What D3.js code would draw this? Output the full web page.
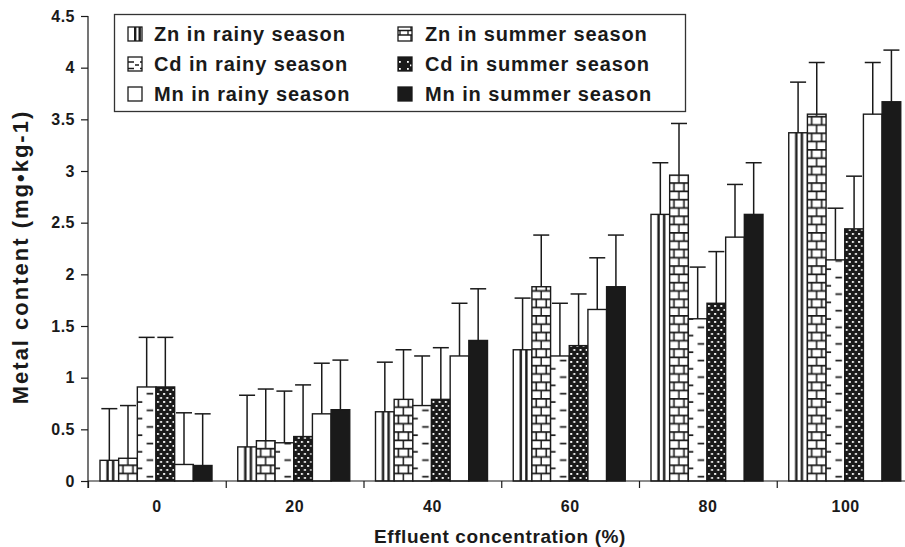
<!DOCTYPE html>
<html>
<head>
<meta charset="utf-8">
<script src="https://cdn.jsdelivr.net/npm/d3@7"></script>
<style>
body{margin:0;background:#fff;}
svg{display:block;font-family:"Liberation Sans",Arial,Helvetica,sans-serif;font-weight:bold;}
.tick text{font-size:16px;font-weight:bold;fill:#1a1a1a;letter-spacing:0.5px;}
.label{font-size:19px;fill:#1a1a1a;letter-spacing:0.6px;}
.ylabel{font-size:22px;fill:#1a1a1a;letter-spacing:2px;}
.legendText{font-size:20px;fill:#1a1a1a;letter-spacing:0.9px;}
</style>
</head>
<body>
<svg></svg>
<script>
// effluent concentration (%)
var categories = ["0","20","40","60","80","100"];
var yTicks = [0,0.5,1,1.5,2,2.5,3,3.5,4,4.5];

// metal content, mg/kg
var znRainy  = [0.20,0.33,0.67,1.27,2.58,3.37];
var znSummer = [0.22,0.39,0.79,1.88,2.96,3.55];
var cdRainy  = [0.91,0.37,0.73,1.21,1.57,2.14];
var cdSummer = [0.91,0.43,0.79,1.31,1.72,2.44];
var mnRainy  = [0.16,0.65,1.21,1.66,2.36,3.55];
var mnSummer = [0.15,0.69,1.36,1.88,2.58,3.67];

// upper error bars
var znRainyErr  = [0.50,0.50,0.48,0.50,0.50,0.49];
var znSummerErr = [0.51,0.50,0.48,0.50,0.50,0.50];
var cdRainyErr  = [0.48,0.50,0.48,0.51,0.50,0.50];
var cdSummerErr = [0.48,0.50,0.50,0.50,0.50,0.51];
var mnRainyErr  = [0.50,0.49,0.51,0.50,0.51,0.50];
var mnSummerErr = [0.50,0.48,0.50,0.50,0.50,0.50];

var series = [
    {key:"znR",name:"Zn in rainy season",fill:"stripes",values:znRainy,err:znRainyErr},
    {key:"znS",name:"Zn in summer season",fill:"brick",values:znSummer,err:znSummerErr},
    {key:"cdR",name:"Cd in rainy season",fill:"dashes",values:cdRainy,err:cdRainyErr},
    {key:"cdS",name:"Cd in summer season",fill:"dots",values:cdSummer,err:cdSummerErr},
    {key:"mnR",name:"Mn in rainy season",fill:"white",values:mnRainy,err:mnRainyErr},
    {key:"mnS",name:"Mn in summer season",fill:"black",values:mnSummer,err:mnSummerErr}
];

var screen = {width:905,height:547};
var margins = {left:88,top:16,bottom:66};
var plotBottom = screen.height-margins.bottom; // 481

var svg = d3.select("svg")
    .attr("width",screen.width)
    .attr("height",screen.height);
var defs = svg.append("defs");

var xScale = d3.scaleBand()
    .domain(categories)
    .range([margins.left,914.5])
    .padding(0);
var inner = d3.scaleBand()
    .domain(series.map(function(s){return s.key;}))
    .range([12,124])
    .padding(0);
var yScale = d3.scaleLinear()
    .domain([0,4.5])
    .range([plotBottom,margins.top]);

// one pattern per mark so the hatching lines up with the bar's left edge
var makePattern = function(id,kind,x0,w)
{
    var p;
    if(kind=="stripes")
    {
        p = defs.append("pattern").attr("id",id)
            .attr("patternUnits","userSpaceOnUse")
            .attr("x",x0).attr("y",0).attr("width",w).attr("height",10);
        p.append("rect").attr("width",w).attr("height",10).attr("fill","#fff");
        p.append("rect").attr("x",w*0.34).attr("width",2.4).attr("height",10).attr("fill","#1a1a1a");
        p.append("rect").attr("x",w*0.64).attr("width",2.4).attr("height",10).attr("fill","#1a1a1a");
    }
    else if(kind=="brick")
    {
        p = defs.append("pattern").attr("id",id)
            .attr("patternUnits","userSpaceOnUse")
            .attr("x",x0).attr("y",plotBottom).attr("width",10).attr("height",16.6);
        p.append("rect").attr("width",10).attr("height",16.6).attr("fill","#fff");
        p.append("path")
            .attr("d","M0,0.8H10M0,9.1H10M4.3,0.8V9.1M9.3,9.1V16.6")
            .attr("stroke","#1a1a1a").attr("stroke-width",1.6).attr("fill","none");
    }
    else if(kind=="dashes")
    {
        p = defs.append("pattern").attr("id",id)
            .attr("patternUnits","userSpaceOnUse")
            .attr("x",x0).attr("y",plotBottom).attr("width",w).attr("height",16.6);
        p.append("rect").attr("width",w).attr("height",16.6).attr("fill","#fff");
        p.append("path")
            .attr("d","M0,4H5M"+(w*0.5)+",12.3H"+(w*0.85))
            .attr("stroke","#1a1a1a").attr("stroke-width",1.8);
    }
    else if(kind=="dots")
    {
        p = defs.append("pattern").attr("id",id)
            .attr("patternUnits","userSpaceOnUse")
            .attr("x",x0).attr("y",0).attr("width",6.2).attr("height",8);
        p.append("rect").attr("width",6.2).attr("height",8).attr("fill","#1a1a1a");
        p.append("rect").attr("x",1).attr("y",1).attr("width",1.9).attr("height",1.9).attr("fill","#fff");
        p.append("rect").attr("x",4.1).attr("y",5).attr("width",1.9).attr("height",1.9).attr("fill","#fff");
    }
}

var fillFor = function(kind,id)
{
    if(kind=="white"){return "#fff";}
    if(kind=="black"){return "#1a1a1a";}
    return "url(#"+id+")";
}

var drawBars = function()
{
    var bars = [];
    series.forEach(function(s)
    {
        s.values.forEach(function(v,i)
        {
            bars.push({s:s,cat:categories[i],value:v,err:s.err[i],id:"p-"+s.key+"-"+i});
        });
    });
    bars.forEach(function(b)
    {
        makePattern(b.id,b.s.fill,xScale(b.cat)+inner(b.s.key),inner.bandwidth());
    });

    var g = svg.append("g").classed("bars",true);
    g.selectAll("rect")
        .data(bars)
        .enter()
        .append("rect")
        .attr("x",function(b){return xScale(b.cat)+inner(b.s.key);})
        .attr("y",function(b){return yScale(b.value);})
        .attr("width",inner.bandwidth())
        .attr("height",function(b){return plotBottom-yScale(b.value);})
        .attr("fill",function(b){return fillFor(b.s.fill,b.id);})
        .attr("stroke","#1a1a1a")
        .attr("stroke-width",1.4);

    var eb = svg.append("g").classed("errorbars",true)
        .attr("stroke","#1a1a1a")
        .attr("stroke-width",1.5);
    var cx = function(b){return xScale(b.cat)+inner(b.s.key)+inner.bandwidth()/2;};
    eb.selectAll("line.stem")
        .data(bars)
        .enter()
        .append("line")
        .classed("stem",true)
        .attr("x1",cx).attr("x2",cx)
        .attr("y1",function(b){return yScale(b.value);})
        .attr("y2",function(b){return yScale(b.value+b.err);});
    eb.selectAll("line.cap")
        .data(bars)
        .enter()
        .append("line")
        .classed("cap",true)
        .attr("x1",function(b){return cx(b)-8;})
        .attr("x2",function(b){return cx(b)+8;})
        .attr("y1",function(b){return yScale(b.value+b.err);})
        .attr("y2",function(b){return yScale(b.value+b.err);});
}

var drawAxes = function()
{
    var yAxis = d3.axisLeft(yScale)
        .tickValues(yTicks)
        .tickFormat(d3.format(""))
        .tickSize(7)
        .tickSizeOuter(0)
        .tickPadding(6);
    var ya = svg.append("g")
        .attr("transform","translate("+margins.left+",0)")
        .call(yAxis);
    ya.select(".domain").remove();
    ya.selectAll("line").attr("stroke","#1a1a1a").attr("stroke-width",1.2);

    svg.append("line")
        .attr("x1",margins.left).attr("x2",margins.left)
        .attr("y1",margins.top).attr("y2",plotBottom+7)
        .attr("stroke","#1a1a1a").attr("stroke-width",1.2);
    svg.append("line")
        .attr("x1",margins.left).attr("x2",screen.width)
        .attr("y1",plotBottom).attr("y2",plotBottom)
        .attr("stroke","#1a1a1a").attr("stroke-width",1.2);

    // ticks sit between the groups
    var edges = d3.scaleLinear().domain([0,categories.length]).range(xScale.range());
    var xe = svg.append("g")
        .attr("transform","translate(0,"+plotBottom+")")
        .call(d3.axisBottom(edges).ticks(6).tickFormat("").tickSize(7).tickSizeOuter(0));
    xe.select(".domain").remove();
    xe.selectAll("line").attr("stroke","#1a1a1a").attr("stroke-width",1.2);

    var xl = svg.append("g")
        .attr("transform","translate(0,"+plotBottom+")")
        .call(d3.axisBottom(xScale).tickSize(0).tickPadding(20));
    xl.select(".domain").remove();
}

var drawLabels = function()
{
    svg.append("text")
        .classed("label",true)
        .attr("text-anchor","middle")
        .attr("x",500)
        .attr("y",543)
        .text("Effluent concentration (%)");
    svg.append("g")
        .attr("transform","translate(28,257)")
        .append("text")
        .classed("ylabel",true)
        .attr("text-anchor","middle")
        .attr("transform","rotate(270)")
        .text("Metal content (mg\u2022kg-1)");
}

var drawLegend = function()
{
    var legend = svg.append("g").classed("legend",true);
    legend.append("rect")
        .attr("x",114.5).attr("y",14.5)
        .attr("width",571).attr("height",97)
        .attr("fill","#fff")
        .attr("stroke","#333").attr("stroke-width",1.3);
    var entries = legend.selectAll("g.entry")
        .data(series)
        .enter()
        .append("g")
        .classed("entry",true)
        .attr("transform",function(s,i)
        {
            var col = i%2, row = Math.floor(i/2);
            return "translate("+(col==0?128:398)+","+(27+row*30)+")";
        });
    entries.each(function(s,i)
    {
        var col = i%2, row = Math.floor(i/2);
        var ax = col==0?128:398, ay = 27+row*30;
        var id = "leg-"+s.key;
        if(s.fill=="stripes")
        {
            defs.append("pattern").attr("id",id).attr("patternUnits","userSpaceOnUse")
                .attr("x",ax).attr("y",ay).attr("width",14).attr("height",14)
                .call(function(p)
                {
                    p.append("rect").attr("width",14).attr("height",14).attr("fill","#fff");
                    p.append("rect").attr("x",4).attr("width",2.4).attr("height",14).attr("fill","#1a1a1a");
                    p.append("rect").attr("x",8.5).attr("width",2.4).attr("height",14).attr("fill","#1a1a1a");
                });
        }
        else if(s.fill=="brick")
        {
            defs.append("pattern").attr("id",id).attr("patternUnits","userSpaceOnUse")
                .attr("x",ax).attr("y",ay).attr("width",14).attr("height",14)
                .call(function(p)
                {
                    p.append("rect").attr("width",14).attr("height",14).attr("fill","#fff");
                    p.append("path").attr("d","M0,4.5H14M0,9H14M7,0V4.5M4,4.5V9M10,4.5V9M7,9V14")
                        .attr("stroke","#1a1a1a").attr("stroke-width",1.3);
                });
        }
        else if(s.fill=="dashes")
        {
            defs.append("pattern").attr("id",id).attr("patternUnits","userSpaceOnUse")
                .attr("x",ax).attr("y",ay).attr("width",14).attr("height",14)
                .call(function(p)
                {
                    p.append("rect").attr("width",14).attr("height",14).attr("fill","#fff");
                    p.append("path").attr("d","M0,4H4M5,7H9M10,4H14M0,10.5H4M10,10.5H14")
                        .attr("stroke","#1a1a1a").attr("stroke-width",1.3);
                });
        }
        else if(s.fill=="dots")
        {
            defs.append("pattern").attr("id",id).attr("patternUnits","userSpaceOnUse")
                .attr("x",ax).attr("y",ay).attr("width",14).attr("height",14)
                .call(function(p)
                {
                    p.append("rect").attr("width",14).attr("height",14).attr("fill","#1a1a1a");
                    [[3,3],[9,3],[6,6.5],[3,10],[9,10]].forEach(function(d)
                    {
                        p.append("rect").attr("x",d[0]).attr("y",d[1]).attr("width",1.8).attr("height",1.8).attr("fill","#fff");
                    });
                });
        }
        d3.select(this).append("rect")
            .attr("width",14).attr("height",14)
            .attr("fill",fillFor(s.fill,id))
            .attr("stroke","#1a1a1a").attr("stroke-width",1.3);
        d3.select(this).append("text")
            .classed("legendText",true)
            .attr("x",col==0?26:27)
            .attr("y",13.5)
            .text(s.name);
    });
}

drawBars();
drawAxes();
drawLabels();
drawLegend();
</script>
</body>
</html>
